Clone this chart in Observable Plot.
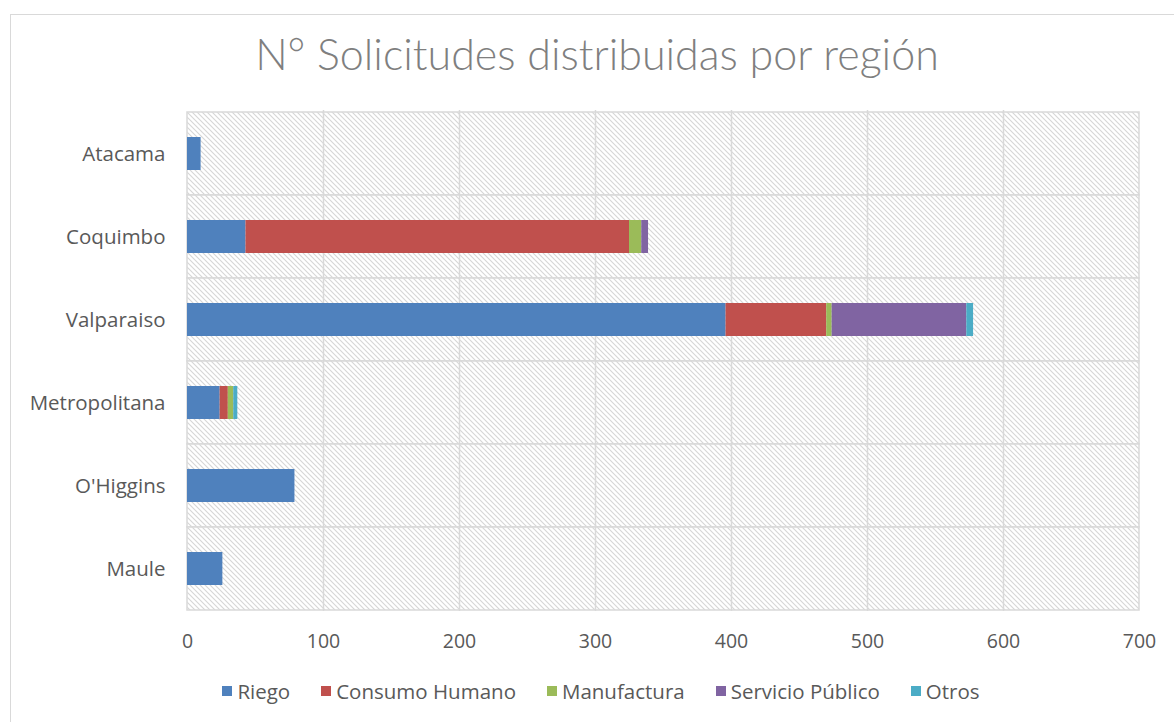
<!DOCTYPE html>
<html><head><meta charset="utf-8">
<script src="https://cdn.jsdelivr.net/npm/d3@7"></script>
<script src="https://cdn.jsdelivr.net/npm/@observablehq/plot@0.6"></script>
<style>
body{margin:0;background:#fff;font-family:"Open Sans",sans-serif;}
#wrap{position:relative;width:1174px;height:722px;overflow:hidden;}
#border{position:absolute;left:10px;top:14px;width:1200px;height:760px;border:1.5px solid #d9d9d9;box-sizing:border-box;}
#chart{position:absolute;left:0;top:0;}
#title{position:absolute;left:0;width:1194px;top:32px;text-align:center;font-family:Lato,sans-serif;font-size:43px;font-weight:300;color:#7f7f7f;line-height:1;}
#legend{position:absolute;left:0;width:1202px;top:681px;display:flex;justify-content:center;gap:31px;font-size:20.5px;color:#595959;line-height:1;}
#legend span.item{display:flex;align-items:center;gap:5px;}
#legend span.sw{display:inline-block;width:10px;height:10px;}
</style>
</head><body>
<div id="wrap">
<div id="border"></div>
<div id="chart"></div>
<div id="title">N° Solicitudes distribuidas por región</div>
<div id="legend"></div>
</div>
<script>
const regions = ["Atacama","Coquimbo","Valparaiso","Metropolitana","O'Higgins","Maule"];
const series = ["Riego","Consumo Humano","Manufactura","Servicio Público","Otros"];
const colors = ["#4F81BD","#C0504D","#9BBB59","#8064A2","#4BACC6"];
const riego = [10,43,396,24,79,26];
const consumoHumano = [0,282,74,6,0,0];
const manufactura = [0,9,4,4,0,0];
const servicioPublico = [0,5,99,0,0,0];
const otros = [0,0,5,3,0,0];
const xTicks = [0,100,200,300,400,500,600,700];

const values = [riego, consumoHumano, manufactura, servicioPublico, otros];
const data = [];
series.forEach((s, i) => regions.forEach((r, j) => {
  if (values[i][j] > 0) data.push({region: r, serie: s, value: values[i][j]});
}));

const chart = Plot.plot({
  width: 1174,
  height: 722,
  marginTop: 110,
  marginBottom: 111,
  marginLeft: 187,
  marginRight: 35,
  style: {fontFamily: "'Open Sans', sans-serif", background: "transparent"},
  x: {domain: [0, 700], ticks: xTicks, tickSize: 0, label: null},
  y: {domain: regions, padding: 0, tickSize: 0, label: null},
  color: {domain: series, range: colors},
  marks: [
    Plot.barX(regions, {y: d => d, x1: 0, x2: 700, fill: "url(#hatch)", stroke: "#d9d9d9", strokeWidth: 1.5}),
    Plot.ruleX(xTicks.slice(1, -1), {stroke: "#d9d9d9", strokeWidth: 1.5}),
    Plot.barX(data, {y: "region", x: "value", fill: "serie", insetTop: 25, insetBottom: 25}),
    Plot.axisX({ticks: xTicks, tickSize: 0, tickPadding: 23, fontSize: 19.5, fill: "#595959", label: null}),
    Plot.axisY({tickSize: 0, tickPadding: 22, fontSize: 20.5, fill: "#595959", label: null})
  ]
});

const svg = d3.select(chart);
const defs = svg.insert("defs", ":first-child");
const p = defs.append("pattern").attr("id", "hatch").attr("patternUnits", "userSpaceOnUse").attr("width", 5).attr("height", 5);
p.append("rect").attr("width", 5).attr("height", 5).attr("fill", "#fff");
p.append("path").attr("d", "M0,0L5,5M-1,4L1,6M4,-1L6,1").attr("stroke", "#d6d6d6").attr("stroke-width", 1.1);
document.getElementById("chart").appendChild(chart);

const legend = d3.select("#legend");
series.forEach((s, i) => {
  const it = legend.append("span").attr("class", "item");
  it.append("span").attr("class", "sw").style("background", colors[i]);
  it.append("span").text(s);
});
</script>
</body></html>
